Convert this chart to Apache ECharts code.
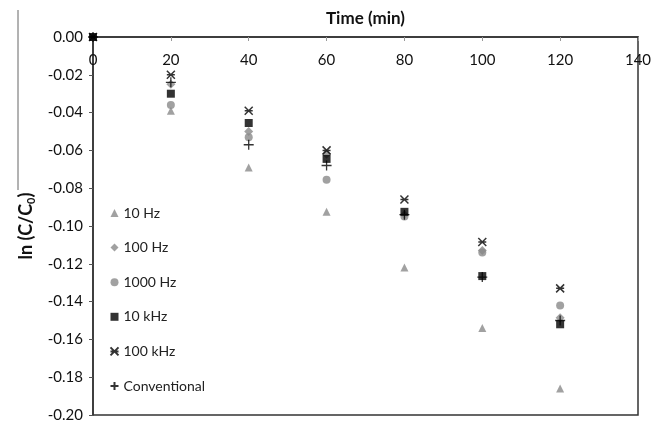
<!DOCTYPE html>
<html>
<head>
<meta charset="utf-8">
<script src="https://cdn.jsdelivr.net/npm/echarts@6/dist/echarts.min.js"></script>
<style>
  html, body { margin: 0; padding: 0; background: #fff; }
  #chart { width: 664px; height: 421px; }
</style>
</head>
<body>
<div id="chart"></div>
<script>
// time points (min)
const times = [0, 20, 40, 60, 80, 100, 120]

// ln(C/C0)
const hz10 = [0, -0.039, -0.069, -0.0925, -0.122, -0.154, -0.186]
const hz100 = [0, -0.025, -0.050, -0.062, -0.094, -0.113, -0.1485]
const hz1000 = [0, -0.036, -0.053, -0.0755, -0.095, -0.114, -0.142]
const khz10 = [0, -0.030, -0.0455, -0.0645, -0.0925, -0.1265, -0.152]
const khz100 = [0, -0.020, -0.039, -0.060, -0.086, -0.1085, -0.133]
const conventional = [0, -0.024, -0.057, -0.068, -0.094, -0.127, -0.150]

const seriesNames = ['10 Hz', '100 Hz', '1000 Hz', '10 kHz', '100 kHz', 'Conventional']

const font = 'Lato, "Open Sans", sans-serif'
const gray = '#8a8a8a'

function pairs (vals) {
  return times.map((t, i) => [t, vals[i]])
}

const starPath = 'path://M0,0L10,10M10,0L0,10M0,5L10,5'
const plusPath = 'path://M5,0L5,10M0,5L10,5'

const option = {
  animation: false,
  grid: { left: 93, right: 26, top: 37, bottom: 6, outerBoundsMode: 'none', containLabel: false },
  legend: {
    orient: 'vertical',
    left: 103,
    top: 201,
    itemGap: 20.6,
    itemWidth: 8,
    itemHeight: 8,
    data: seriesNames,
    textStyle: { fontFamily: font, fontSize: 14, color: '#222' }
  },
  xAxis: {
    type: 'value',
    position: 'top',
    min: 0,
    max: 140,
    interval: 20,
    name: 'Time (min)',
    nameLocation: 'middle',
    nameGap: 10,
    nameTextStyle: { fontFamily: font, fontSize: 17, fontWeight: 'bold', color: '#111' },
    axisLine: { show: true, onZero: false, lineStyle: { color: '#333', width: 1.5 } },
    axisTick: { show: true, inside: true, length: 4, lineStyle: { color: '#999' } },
    axisLabel: { inside: true, margin: 16, fontFamily: font, fontSize: 15, color: '#111', verticalAlign: 'top' },
    splitLine: { show: false }
  },
  yAxis: {
    type: 'value',
    min: -0.2,
    max: 0,
    interval: 0.02,
    name: '{m|ln (C/C}{s|0}{m|)}',
    nameLocation: 'middle',
    nameGap: 56,
    nameTextStyle: {
      rich: {
        m: { fontFamily: font, fontSize: 18, fontWeight: 'bold', color: '#111' },
        s: { fontFamily: font, fontSize: 11, fontWeight: 'bold', color: '#111', verticalAlign: 'bottom', padding: [10, 0, 0, 0] }
      }
    },
    axisLine: { show: true, onZero: false, lineStyle: { color: '#333', width: 1.5 } },
    axisTick: { show: true, length: 4, lineStyle: { color: '#555' } },
    axisLabel: { fontFamily: font, fontSize: 15, color: '#111', margin: 10, formatter: v => v.toFixed(2) },
    splitLine: { show: false }
  },
  graphic: [
    {
      type: 'line',
      shape: { x1: 18, y1: 10, x2: 18, y2: 190 },
      style: { stroke: '#666', lineWidth: 1 }
    },
    {
      type: 'rect',
      shape: { x: 93, y: 37, width: 545, height: 378 },
      style: { fill: 'none', stroke: '#333', lineWidth: 1.5 },
      silent: true
    }
  ],
  series: [
    {
      name: '10 Hz', type: 'scatter', symbol: 'triangle', symbolSize: 8,
      itemStyle: { color: gray }, data: pairs(hz10)
    },
    {
      name: '100 Hz', type: 'scatter', symbol: 'diamond', symbolSize: 9,
      itemStyle: { color: gray }, data: pairs(hz100)
    },
    {
      name: '1000 Hz', type: 'scatter', symbol: 'circle', symbolSize: 8,
      itemStyle: { color: gray }, data: pairs(hz1000)
    },
    {
      name: '10 kHz', type: 'scatter', symbol: 'rect', symbolSize: 8,
      itemStyle: { color: '#000' }, data: pairs(khz10)
    },
    {
      name: '100 kHz', type: 'scatter', symbol: starPath, symbolSize: 8,
      itemStyle: { color: 'none', borderColor: '#000', borderWidth: 1.5 }, data: pairs(khz100)
    },
    {
      name: 'Conventional', type: 'scatter', symbol: plusPath, symbolSize: 10,
      itemStyle: { color: 'none', borderColor: '#000', borderWidth: 1.3 }, data: pairs(conventional)
    }
  ]
}

const myChart = echarts.init(document.getElementById('chart'), null, { renderer: 'canvas' })
myChart.setOption(option)
</script>
</body>
</html>
